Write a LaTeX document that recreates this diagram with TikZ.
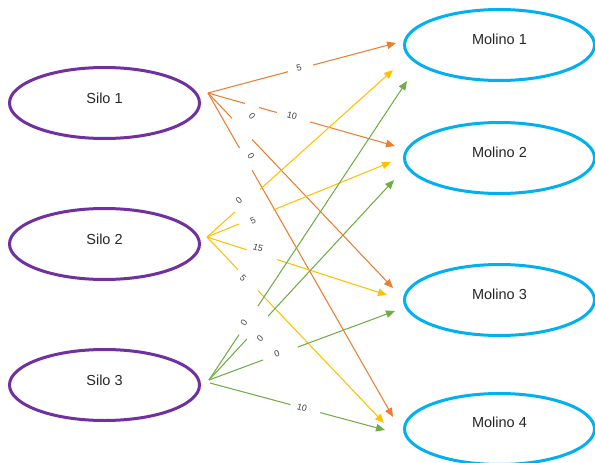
\documentclass[tikz,border=0pt]{standalone}
\usepackage{fontspec}
\setmainfont{Liberation Sans}
\usetikzlibrary{shapes.geometric,arrows.meta,calc}
\definecolor{cor}{HTML}{ED7D31}
\definecolor{cye}{HTML}{FFC000}
\definecolor{cgr}{HTML}{70AD47}
\definecolor{cpu}{HTML}{7030A0}
\definecolor{cbl}{HTML}{00B0F0}
\definecolor{ctx}{HTML}{262626}
\definecolor{clb}{HTML}{404040}
\newcommand\gedge[5]{%
  \draw[edge,#1] (#2) -- ($(#2)!#4!(#3)$);
  \draw[edge,#1,tip] ($(#2)!#5!(#3)$) -- (#3);}
\begin{document}
\begin{tikzpicture}[x=1pt,y=-1pt,
  silo/.style={ellipse,draw=cpu,line width=3pt,minimum width=190pt,minimum height=71pt,inner sep=0pt},
  mol/.style={ellipse,draw=cbl,line width=3pt,minimum width=190pt,minimum height=71pt,inner sep=0pt},
  txt/.style={font=\fontsize{14.5}{17}\selectfont,text=ctx},
  lbl/.style={font=\fontsize{9}{10}\selectfont,text=clb,inner sep=0pt},
  edge/.style={line width=1.05pt},
  tip/.style={-{Triangle[length=9pt,width=7.5pt]}}]
\useasboundingbox (0,0) rectangle (595,463);
% nodes
\node[silo] (s1) at (104.5,103) {};
\node[silo] (s2) at (104.5,244) {};
\node[silo] (s3) at (104.5,385) {};
\node[mol] (m1) at (499.5,45) {};
\node[mol] (m2) at (499.5,158) {};
\node[mol] (m3) at (499.5,300) {};
\node[mol] (m4) at (499.5,429) {};
\node[txt] (ts1) at ([yshift=5pt]s1.center) {Silo 1};
\node[txt] (ts2) at ([yshift=5pt]s2.center) {Silo 2};
\node[txt] (ts3) at ([yshift=5pt]s3.center) {Silo 3};
\node[txt] (tm1) at ([yshift=6pt]m1.center) {Molino 1};
\node[txt] (tm2) at ([yshift=6pt]m2.center) {Molino 2};
\node[txt] (tm3) at ([yshift=6pt]m3.center) {Molino 3};
\node[txt] (tm4) at ([yshift=7pt]m4.center) {Molino 4};
% connector ends
\coordinate (o1) at (208,93);
\coordinate (o2) at (207,237);
\coordinate (o3) at (209,380);
\coordinate (o3b) at (210,383);
\coordinate (e11) at (396,43);
\coordinate (e12) at (395,146);
\coordinate (e13) at (393,288);
\coordinate (e14) at (393,417);
\coordinate (e21) at (393,70);
\coordinate (e22) at (391,162);
\coordinate (e23) at (387,295);
\coordinate (e24) at (384,423);
\coordinate (e31) at (407,81);
\coordinate (e32) at (394,180);
\coordinate (e33) at (395,311);
\coordinate (e34) at (385,430);
% Silo 1
\gedge{cor}{o1}{e11}{0.426}{0.559}
\draw[edge,cor] (o1) -- ($(o1)!0.198!(e12)$);
\draw[edge,cor] ($(o1)!0.273!(e12)$) -- ($(o1)!0.369!(e12)$);
\draw[edge,cor,tip] ($(o1)!0.545!(e12)$) -- (e12);
\gedge{cor}{o1}{e13}{0.13}{0.238}
\gedge{cor}{o1}{e14}{0.17}{0.238}
% Silo 2
\gedge{cye}{o2}{e21}{0.15}{0.285}
\gedge{cye}{o2}{e22}{0.174}{0.359}
\gedge{cye}{o2}{e23}{0.222}{0.389}
\gedge{cye}{o2}{e24}{0.175}{0.288}
% Silo 3
\gedge{cgr}{o3}{e31}{0.152}{0.247}
\gedge{cgr}{o3}{e32}{0.205}{0.319}
\gedge{cgr}{o3}{e33}{0.29}{0.478}
\gedge{cgr}{o3b}{e34}{0.46}{0.63}
% labels
\node[lbl,rotate=14.9] (l11) at (299,68) {5};
\node[lbl,rotate=-15.8] (l12) at (292,116) {10};
\node[lbl,rotate=-46.5] (l13) at (252,116) {0};
\node[lbl,rotate=-60.3] (l14) at (251,156) {0};
\node[lbl,rotate=41.9] (l21) at (239,201) {0};
\node[lbl,rotate=22.2] (l22) at (253,221) {5};
\node[lbl,rotate=-17.9] (l23) at (258,248) {15};
\node[lbl,rotate=-46.4] (l24) at (243,278) {5};
\node[lbl,rotate=56.5] (l31) at (244,323) {0};
\node[lbl,rotate=47.2] (l32) at (260,339) {0};
\node[lbl,rotate=20.4] (l33) at (277,354) {0};
\node[lbl,rotate=-15.9] (l34) at (302,408) {10};
\end{tikzpicture}
\end{document}
